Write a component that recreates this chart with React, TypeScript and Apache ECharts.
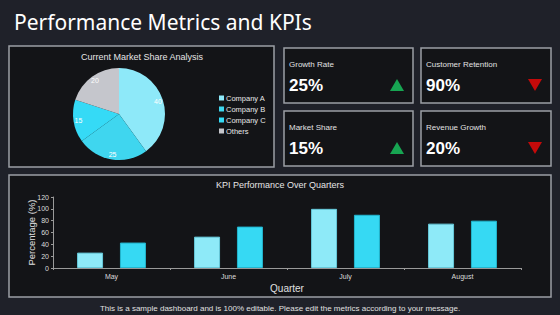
import React, { useEffect, useRef } from "react";
import * as echarts from "echarts";

// Market share split
const shareNames = ["Company A", "Company B", "Company C", "Others"];
const shareValues = [40, 25, 15, 20];
const shareColors = ["#8ee9f9", "#3fd6ef", "#35daf6", "#c5c6cc"];

// KPI cards
const kpiLabels = ["Growth Rate", "Customer Retention", "Market Share", "Revenue Growth"];
const kpiValues = [25, 90, 15, 20];
const kpiTrends = ["up", "down", "up", "down"];

// Quarterly KPI performance
const quarters = ["May", "June", "July", "August"];
const previousValues = [26, 53, 100, 75];
const currentValues = [43, 70, 90, 80];
const yTicks = { min: 0, max: 120, interval: 20 };

const FONT = "'Liberation Sans', Arial, sans-serif";
const PAGE_BG = "#1f2129";
const PANEL_BG = "#131417";
const BORDER = "#9c9fa5";

const panel = (x: number, y: number, w: number, h: number) => ({
  type: "rect",
  shape: { x, y, width: w, height: h },
  style: { fill: PANEL_BG, stroke: BORDER, lineWidth: 1.5 },
  silent: true,
});

const text = (x: number, y: number, t: string, font: string, fill: string, align = "left") => ({
  type: "text",
  x,
  y,
  style: { text: t, font, fill, align, verticalAlign: "middle" },
  silent: true,
});

const cards = [
  { x: 284, y: 48, w: 129, h: 55 },
  { x: 421, y: 48, w: 130, h: 55 },
  { x: 284, y: 111, w: 129, h: 55 },
  { x: 421, y: 111, w: 130, h: 55 },
];

function cardGraphics() {
  const out: any[] = [];
  cards.forEach((c, i) => {
    out.push(panel(c.x, c.y, c.w, c.h));
    out.push(text(c.x + 5, c.y + 16, kpiLabels[i], `8px ${FONT}`, "#e2e2e2"));
    out.push(text(c.x + 5, c.y + 37, `${kpiValues[i]}%`, `bold 17px ${FONT}`, "#ffffff"));
    const cx = c.x + c.w - 16;
    const cy = c.y + 37;
    const up = kpiTrends[i] === "up";
    out.push({
      type: "polygon",
      shape: {
        points: up
          ? [[cx - 7, cy + 6], [cx + 7, cy + 6], [cx, cy - 6]]
          : [[cx - 7, cy - 6], [cx + 7, cy - 6], [cx, cy + 6]],
      },
      style: { fill: up ? "#17a552" : "#c40a0a" },
      silent: true,
    });
  });
  return out;
}

export default function App() {
  const ref = useRef<HTMLDivElement>(null);

  useEffect(() => {
    if (!ref.current) return;
    const chart = echarts.init(ref.current, null, { renderer: "svg" });
    const pieData = shareNames.map((n, i) => ({
      name: n,
      value: shareValues[i],
      itemStyle: { color: shareColors[i] },
    }));

    chart.setOption({
      animation: false,
      backgroundColor: PAGE_BG,
      textStyle: { fontFamily: FONT },
      graphic: [
        text(14, 22, "Performance Metrics and KPIs", `21px 'Noto Sans', sans-serif`, "#ffffff"),
        panel(9, 46, 265, 121),
        text(142, 57, "Current Market Share Analysis", `9px ${FONT}`, "#e6e6e6", "center"),
        ...cardGraphics(),
        panel(9, 175, 542, 122),
        text(280, 185, "KPI Performance Over Quarters", `9px ${FONT}`, "#e6e6e6", "center"),
        text(280, 308, "This is a sample dashboard and is 100% editable. Please edit the metrics according to your message.", `8px ${FONT}`, "#e0e0e0", "center"),
      ],
      legend: {
        orient: "vertical",
        left: 214,
        top: 89,
        itemWidth: 5,
        itemHeight: 5,
        itemGap: 3,
        icon: "rect",
        data: shareNames,
        textStyle: { color: "#e8e8e8", fontSize: 7.5, padding: [0, 0, 0, -3] },
      },
      grid: { left: 53, right: 39, top: 197, bottom: 47 },
      xAxis: {
        type: "category",
        data: quarters,
        name: "Quarter",
        nameLocation: "middle",
        nameGap: 15,
        nameMoveOverlap: false,
        nameTextStyle: { color: "#e0e0e0", fontSize: 10 },
        axisLine: { lineStyle: { color: "#9a9a9a", width: 1 } },
        axisTick: { show: true, length: 2, lineStyle: { color: "#9a9a9a" } },
        axisLabel: { color: "#dcdcdc", fontSize: 7, margin: 5 },
      },
      yAxis: {
        type: "value",
        min: yTicks.min,
        max: yTicks.max,
        interval: yTicks.interval,
        name: "Percentage (%)",
        nameLocation: "middle",
        nameGap: 17,
        nameMoveOverlap: false,
        nameTextStyle: { color: "#e0e0e0", fontSize: 9.5 },
        axisLine: { show: true, lineStyle: { color: "#9a9a9a", width: 1 } },
        axisTick: { show: true, length: 2, lineStyle: { color: "#9a9a9a" } },
        splitLine: { show: false },
        axisLabel: { color: "#dcdcdc", fontSize: 7, margin: 4 },
      },
      series: [
        {
          type: "pie",
          center: [119, 114],
          radius: [0, 46],
          startAngle: 90,
          clockwise: true,
          silent: true,
          label: { show: false },
          labelLine: { show: false },
          data: pieData,
        },
        {
          // label ring, placed toward the rim
          type: "pie",
          center: [119, 114],
          radius: [30, 46],
          startAngle: 90,
          clockwise: true,
          silent: true,
          legendHoverLink: false,
          label: {
            show: true,
            position: "inside",
            formatter: "{c}",
            color: "#ffffff",
            fontSize: 7,
          },
          labelLine: { show: false },
          data: shareNames.map((n, i) => ({
            name: n,
            value: shareValues[i],
            itemStyle: { color: "rgba(0,0,0,0)" },
          })),
        },
        {
          name: "Previous",
          type: "bar",
          data: previousValues,
          barWidth: 26,
          barGap: "65%",
          itemStyle: { color: "#8eeaf8", borderColor: "#66c9da", borderWidth: 1 },
        },
        {
          name: "Current",
          type: "bar",
          data: currentValues,
          barWidth: 26,
          itemStyle: { color: "#36d9f3", borderColor: "#22b6cf", borderWidth: 1 },
        },
      ],
    });
    return () => chart.dispose();
  }, []);

  return (
    <div
      ref={ref}
      style={{ position: "fixed", left: 0, top: 0, width: 560, height: 315 }}
    />
  );
}
